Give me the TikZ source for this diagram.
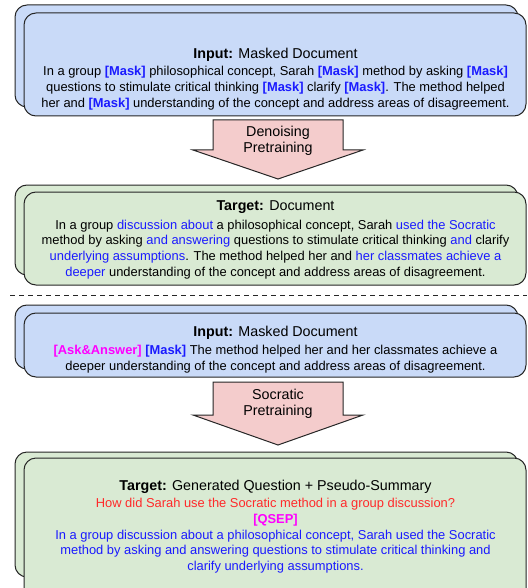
\documentclass[tikz,border=0pt]{standalone}
\usepackage{fontspec}
\setmainfont{Liberation Sans}
\usetikzlibrary{positioning}

\definecolor{inblue}{HTML}{C9DAF8}
\definecolor{tggreen}{HTML}{D9EAD3}
\definecolor{arpink}{HTML}{F4CCCC}
\definecolor{wordblue}{HTML}{1A1AFF}
\definecolor{qred}{HTML}{FF2A2A}
\definecolor{tokmag}{HTML}{FF00FF}
\definecolor{edge}{HTML}{262626}

\newcommand{\msk}{\textcolor{wordblue}{\textbf{[Mask]}}}
\newcommand{\fil}[1]{\textcolor{wordblue}{#1}}
\newcommand{\headline}[1]{{\fontsize{14.3}{17}\selectfont #1}}

\tikzset{
	docbox/.style={draw=edge, line width=1pt, rounded corners=12pt, inner sep=0pt},
	doctext/.style={align=center, inner sep=0pt, anchor=north,
		font=\fontsize{12.9}{15.7}\selectfont},
	arrowtext/.style={align=center, inner sep=0pt, anchor=north,
		font=\fontsize{14.3}{16.5}\selectfont},
	pinkarrow/.style={draw=edge, line width=1pt, fill=arpink}
}

\begin{document}
\begin{tikzpicture}[x=1pt,y=-1pt]
	\useasboundingbox (0,0) rectangle (527,588);
	\clip (0,0) rectangle (527,588);

	% masked input
	\node[docbox, fill=inblue, minimum width=503pt, minimum height=102pt] (in1b) at (266.5,56) {};
	\node[docbox, fill=inblue, minimum width=502pt, minimum height=103pt] (in1) at (275,64.5) {};
	\node[doctext] (in1txt) at (275.5,47.5) {\headline{\textbf{Input:} Masked Document}\\[2pt]
		In a group \msk{} philosophical concept, Sarah \msk{} method by asking \msk\\
		questions to stimulate critical thinking \msk{} clarify \msk. The method helped\\
		her and \msk{} understanding of the concept and address areas of disagreement.};

	% denoising arrow
	\draw[pinkarrow] (213,120) -- (343,120) -- (343,150) -- (363,150) -- (278,179)
		-- (193,150) -- (213,150) -- cycle;
	\node[arrowtext] (den) at (278,125.7) {Denoising\\Pretraining};

	% target document
	\node[docbox, fill=tggreen, minimum width=503pt, minimum height=90pt] (tg1b) at (266.5,230) {};
	\node[docbox, fill=tggreen, minimum width=502pt, minimum height=93pt] (tg1) at (275,238.5) {};
	\node[doctext] (tg1txt) at (275.5,200.7) {\headline{\textbf{Target:} Document}\\[2.8pt]
		In a group \fil{discussion about} a philosophical concept, Sarah \fil{used the Socratic}\\
		method by asking \fil{and answering} questions to stimulate critical thinking \fil{and} clarify\\
		\fil{underlying assumptions}. The method helped her and \fil{her classmates achieve a}\\
		\fil{deeper} understanding of the concept and address areas of disagreement.};

	% separator
	\coordinate (sepl) at (10,295);
	\coordinate (sepr) at (527,295);
	\draw[edge, line width=1pt, dash pattern=on 5pt off 4pt] (sepl) -- (sepr);

	% socratic input
	\node[docbox, fill=inblue, minimum width=503pt, minimum height=64pt] (in2b) at (266.5,337) {};
	\node[docbox, fill=inblue, minimum width=502pt, minimum height=64pt] (in2) at (275,345) {};
	\node[doctext] (in2txt) at (275.5,325.7) {\headline{\textbf{Input:} Masked Document}\\[2.8pt]
		\textcolor{tokmag}{\textbf{[Ask\&Answer]}} \msk{} The method helped her and her classmates achieve a\\
		deeper understanding of the concept and address areas of disagreement.};

	% socratic arrow
	\draw[pinkarrow] (213,382) -- (343,382) -- (343,415) -- (363,415) -- (278,445)
		-- (193,415) -- (213,415) -- cycle;
	\node[arrowtext] (soc) at (278,388.7) {Socratic\\Pretraining};

	% question + summary target
	\node[docbox, fill=tggreen, minimum width=503pt, minimum height=125pt] (tg2b) at (266.5,514.5) {};
	\node[docbox, fill=tggreen, minimum width=502pt, minimum height=142pt] (tg2) at (275,529) {};
	\node[doctext] (tg2txt) at (275.5,479.7) {\headline{\textbf{Target:} Generated Question + Pseudo-Summary}\\[1.8pt]
		\textcolor{qred}{How did Sarah use the Socratic method in a group discussion?}\\
		\textcolor{tokmag}{\textbf{[QSEP]}}\\
		\fil{In a group discussion about a philosophical concept, Sarah used the Socratic}\\
		\fil{method by asking and answering questions to stimulate critical thinking and}\\
		\fil{clarify underlying assumptions.}};
\end{tikzpicture}
\end{document}
